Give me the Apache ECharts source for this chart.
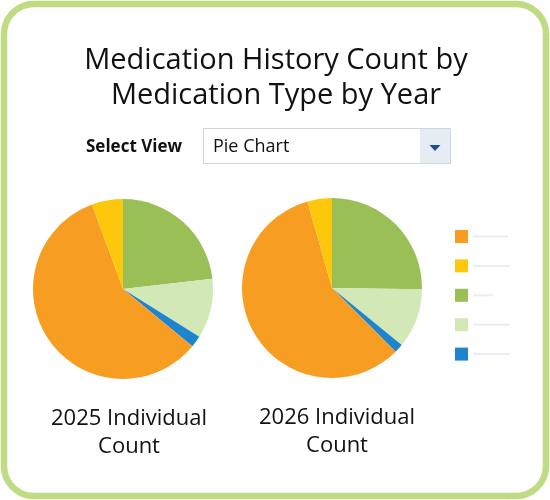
<!DOCTYPE html>
<html>
<head>
<meta charset="utf-8">
<script src="https://cdn.jsdelivr.net/npm/echarts@6/dist/echarts.min.js"></script>
<style>
  html, body { margin: 0; padding: 0; background: #fff; }
  #chart-panel { width: 550px; height: 500px; }
</style>
</head>
<body>
<div id="chart-panel"></div>
<script>
(function () {
  var myChart = echarts.init(document.querySelector('#chart-panel'));

  // medication types (legend order), colours and placeholder line widths
  var types = ['Type A', 'Type B', 'Type C', 'Type D', 'Type E'];
  var colors = ['#f79e22', '#fdc80c', '#9bbf57', '#d3e8b7', '#1e84cf'];
  var lineLen = [35, 37, 20, 37, 37];

  // share of each type per year (%)
  var count2025 = [58.4, 5.6, 23.2, 10.7, 2.1];
  var count2026 = [58.1, 4.4, 25.2, 10.7, 1.6];

  var pieTitles = ['2025 Individual\nCount', '2026 Individual\nCount'];

  // slices go clockwise from 12 o'clock: C, D, E, A, B
  var drawOrder = [2, 3, 4, 0, 1];
  function toData(vals) {
    return drawOrder.map(function (i) {
      return { name: types[i], value: vals[i], itemStyle: { color: colors[i] } };
    });
  }

  var rich = {};
  types.forEach(function (t, i) {
    rich['l' + i] = { width: lineLen[i], height: 2, lineHeight: 2, backgroundColor: '#e8edf3' };
  });

  var font = '"Open Sans", "Noto Sans", sans-serif';

  option = {
    animation: false,
    title: [{
      text: 'Medication History Count by\nMedication Type by Year',
      left: 271, top: 38, textAlign: 'center',
      textStyle: { fontFamily: font, fontSize: 29, fontWeight: 500, color: '#111', lineHeight: 35 }
    }, {
      text: pieTitles[0],
      left: 124, top: 400, textAlign: 'center',
      textStyle: { fontFamily: font, fontSize: 22, fontWeight: 500, color: '#111', lineHeight: 28 }
    }, {
      text: pieTitles[1],
      left: 332, top: 399, textAlign: 'center',
      textStyle: { fontFamily: font, fontSize: 22, fontWeight: 500, color: '#111', lineHeight: 28 }
    }],
    legend: {
      orient: 'vertical',
      left: 450, top: 225,
      data: types,
      icon: 'rect',
      itemWidth: 13, itemHeight: 13, itemGap: 16.4,
      selectedMode: false,
      formatter: function (name) {
        return '{l' + types.indexOf(name) + '| }';
      },
      textStyle: { rich: rich }
    },
    graphic: [
      { type: 'rect', shape: { x: 4, y: 4, width: 542, height: 492, r: 30 },
        style: { fill: 'none', stroke: '#bfdc85', lineWidth: 6.5 }, silent: true },
      { type: 'text', x: 86, y: 147,
        style: { text: 'Select View', fontFamily: font, fontSize: 17, fontWeight: 'bold', fill: '#111', verticalAlign: 'middle' } },
      { type: 'rect', shape: { x: 203.5, y: 128.5, width: 247, height: 35 },
        style: { fill: '#fff', stroke: '#cdd5de', lineWidth: 1 } },
      { type: 'rect', shape: { x: 420, y: 129, width: 30, height: 34 },
        style: { fill: '#e7ecf3' } },
      { type: 'polygon', shape: { points: [[429.5, 145], [440.5, 145], [435, 151]] },
        style: { fill: '#1f4f8f' } },
      { type: 'text', x: 213, y: 146.5,
        style: { text: 'Pie Chart', fontFamily: font, fontSize: 18, fill: '#111', verticalAlign: 'middle' } }
    ],
    series: [{
      type: 'pie',
      center: [123, 289], radius: 90,
      startAngle: 90, clockwise: true,
      label: { show: false }, labelLine: { show: false },
      silent: true,
      data: toData(count2025)
    }, {
      type: 'pie',
      center: [332, 288], radius: 90,
      startAngle: 90, clockwise: true,
      label: { show: false }, labelLine: { show: false },
      silent: true,
      data: toData(count2026)
    }]
  };

  myChart.setOption(option);
})();
</script>
</body>
</html>
